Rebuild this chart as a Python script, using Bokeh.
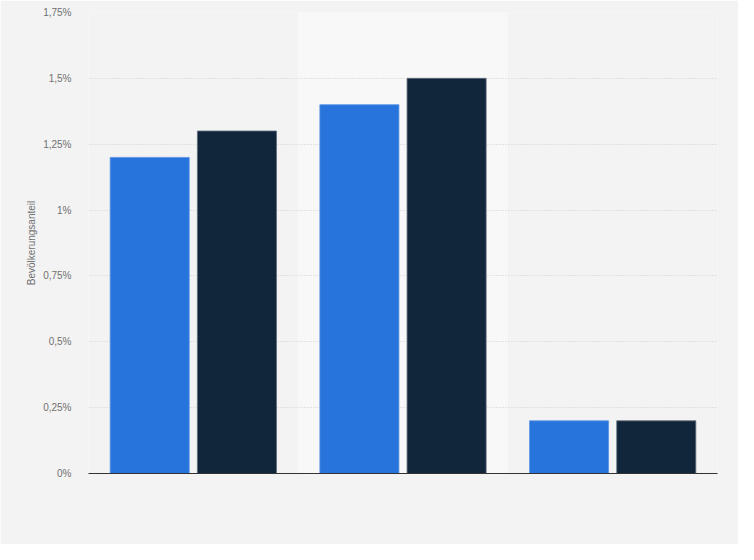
from bokeh.plotting import figure
from bokeh.models import Range1d, FixedTicker, CustomJSTickFormatter, ColumnDataSource
from bokeh.embed import file_html
from bokeh.resources import INLINE

# Data
categories = ["Gruppe 1", "Gruppe 2", "Gruppe 3"]
series_a = [1.2, 1.4, 0.2]   # blue
series_b = [1.3, 1.5, 0.2]   # dark navy
y_ticks = [0, 0.25, 0.5, 0.75, 1.0, 1.25, 1.5, 1.75]
highlight_index = 1

BG = "#f3f3f3"
BAND = "#f8f8f8"
BLUE = "#2775dc"
NAVY = "#11263b"

idx = list(range(len(categories)))
centers = [i + 0.5 for i in idx]
offset = 0.208
bw = 0.377

p = figure(width=738, height=544, output_backend="svg", toolbar_location=None,
           x_range=Range1d(0, len(categories)), y_range=Range1d(0, max(y_ticks)),
           min_border_left=88, min_border_right=21, min_border_top=12, min_border_bottom=71)
p.background_fill_color = BG
p.border_fill_color = BG
p.outline_line_color = None

# highlighted band behind middle group
band = p.vbar(x=[centers[highlight_index]], top=[max(y_ticks)], bottom=0, width=1.0,
              fill_color=BAND, line_color=None)
band.level = "image"

src = ColumnDataSource(dict(
    xa=[c - offset for c in centers], a=series_a,
    xb=[c + offset for c in centers], b=series_b))
p.vbar(x="xa", top="a", width=bw, source=src, fill_color=BLUE, line_color="#5a93e4", line_width=0.8)
p.vbar(x="xb", top="b", width=bw, source=src, fill_color=NAVY, line_color="#5d6a78", line_width=0.8)

# axes
p.xaxis.ticker = FixedTicker(ticks=[])
p.xaxis.axis_line_color = "#333333"
p.xaxis.axis_line_width = 1.2
p.xaxis.major_tick_line_color = None
p.xaxis.minor_tick_line_color = None

p.yaxis.ticker = FixedTicker(ticks=y_ticks)
p.yaxis.formatter = CustomJSTickFormatter(code="return tick.toString().replace('.', ',') + '%';")
p.yaxis.axis_line_color = None
p.yaxis.major_tick_line_color = None
p.yaxis.minor_tick_line_color = None
p.yaxis.major_label_text_font = "Liberation Sans"
p.yaxis.major_label_text_font_size = "10px"
p.yaxis.major_label_text_color = "#707070"
p.yaxis.major_label_standoff = 11
p.yaxis.axis_label = "Bevölkerungsanteil"
p.yaxis.axis_label_text_font = "Liberation Sans"
p.yaxis.axis_label_text_font_size = "10px"
p.yaxis.axis_label_text_font_style = "normal"
p.yaxis.axis_label_text_color = "#707070"
p.yaxis.axis_label_standoff = 3

p.xgrid.grid_line_color = None
p.ygrid.grid_line_color = "#cfcfcf"
p.ygrid.grid_line_dash = "1 2"
p.ygrid.grid_line_width = 1

open("out.html", "w").write(file_html(p, INLINE))
